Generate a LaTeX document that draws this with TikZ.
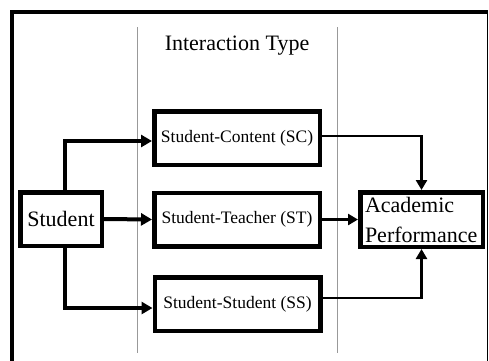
\documentclass[tikz,border=0pt]{standalone}
\usepackage{fontspec}
\setmainfont{Liberation Serif}
\usetikzlibrary{arrows.meta}
\begin{document}
\begin{tikzpicture}[x=1pt,y=-1pt,
  box/.style={draw, line width=4.5pt, inner sep=0pt, minimum width=165.5pt, minimum height=53.5pt, font=\fontsize{17.5}{20}\selectfont},
  bigbox/.style={draw, line width=4.5pt, inner sep=0pt, font=\fontsize{22}{30}\selectfont},
  connL/.style={line width=4pt, -{Triangle[length=11pt,width=12pt]}},
  connR/.style={line width=2.8pt, -{Triangle[length=10pt,width=11pt]}},
  divider/.style={draw=black!40, line width=1pt}
]
\useasboundingbox (0,0) rectangle (489,360);
\fill[white] (0,0) rectangle (489,360);
% frame
\draw[line width=4pt] (11.5,362) -- (11.5,11.5) -- (487.5,11.5);
\draw[line width=1.8pt] (487.5,11.5) -- (487.5,362);
% dividers
\coordinate (d1t) at (137,27); \coordinate (d1b) at (137,353);
\coordinate (d2t) at (337,27); \coordinate (d2b) at (337,353);
\draw[divider] (d1t) -- (d1b);
\draw[divider] (d2t) -- (d2b);
% title
\node[font=\fontsize{22}{26}\selectfont] (title) at (237,46) {Interaction Type};
% boxes
\node[box] (sc) at (237,138) {Student-Content (SC)};
\node[box] (st) at (237,219.5) {Student-Teacher (ST)};
\node[box] (ss) at (237.5,304) {Student-Student (SS)};
\node[bigbox, minimum width=81.5pt, minimum height=53.5pt] (student) at (61,219) {Student};
\node[bigbox, minimum width=122.5pt, minimum height=54.5pt, align=left, text width=113pt] (ap) at (421.5,219.5) {Academic\\Performance};
% connectors
\draw[connL] ([xshift=4pt]student.north) |- ([yshift=-3pt]sc.west);
\draw[connL] (student.east) -- (st.west);
\draw[connL] ([xshift=4pt]student.south) |- ([yshift=-4pt]ss.west);
\draw[connR] ([yshift=2pt]sc.east) -| (ap.north);
\draw[connR] (st.east) -- (ap.west);
\draw[connR] ([yshift=6pt]ss.east) -| (ap.south);
\end{tikzpicture}
\end{document}
